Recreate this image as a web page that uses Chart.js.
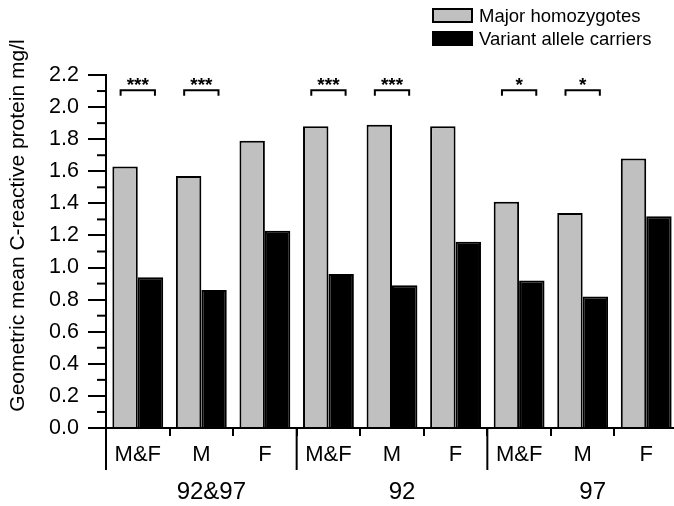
<!DOCTYPE html>
<html>
<head>
<meta charset="utf-8">
<script src="https://cdn.jsdelivr.net/npm/chart.js@4/dist/chart.umd.min.js"></script>
<style>
  html, body { margin: 0; padding: 0; background: #fff; overflow: hidden; }
  #wrap { position: relative; width: 680px; height: 506px; }
  #legend { position: absolute; left: 432px; top: 4px; font: 18.5px "Liberation Sans", Arial, sans-serif; color: #000; }
  .item { display: flex; align-items: center; height: 23px; }
  .box { width: 37px; height: 11px; margin-right: 6px; border: 2px solid #000; }
</style>
</head>
<body>
<div id="wrap">
  <canvas id="myChart"></canvas>
  <div id="legend"></div>
</div>
<script>
const groups = ['92&97', '92', '97'];
const sexes = ['M&F', 'M', 'F'];
const categories = ['M&F', 'M', 'F', 'M&F', 'M', 'F', 'M&F', 'M', 'F'];
const majorHomozygotes = [1.63, 1.57, 1.79, 1.88, 1.89, 1.88, 1.41, 1.34, 1.68];
const variantCarriers = [0.94, 0.86, 1.23, 0.96, 0.89, 1.16, 0.92, 0.82, 1.32];
const significance = ['***', '***', '', '***', '***', '', '*', '*', ''];
const yMax = 2.2;
const yStep = 0.2;

const FONT = '"Liberation Sans", Arial, sans-serif';
Chart.defaults.font.family = FONT;
Chart.defaults.color = '#000';

document.addEventListener('DOMContentLoaded', init, false);

function init(){
    const ctx = document.getElementById("myChart");
    const data = {
        labels: categories,
        datasets: [{
            label: 'Major homozygotes',
            data: majorHomozygotes,
            backgroundColor: '#c0c0c0',
            borderColor: '#000',
            borderWidth: 2
        }, {
            label: 'Variant allele carriers',
            data: variantCarriers,
            backgroundColor: '#000',
            borderColor: '#000',
            borderWidth: 2
        }]
    };
    const config = {
        type: 'bar',
        data: data,
        options: {
            responsive: true,
            maintainAspectRatio: false,
            animation: false,
            devicePixelRatio: 1,
            categoryPercentage: 0.8,
            barPercentage: 1.0,
            layout: { padding: { top: 75, right: 2, bottom: 0, left: 0 } },
            plugins: { legend: { display: false }, tooltip: { enabled: false } },
            scales: {
                x: {
                    grid: { drawOnChartArea: false, tickLength: 8, color: '#000', lineWidth: 2, offset: true },
                    border: { color: '#000', width: 2 },
                    ticks: { color: '#000', font: { size: 22 }, padding: 6, autoSkip: false, maxRotation: 0 },
                    afterFit: (s) => { s.height = 78; }
                },
                y: {
                    min: 0,
                    max: yMax,
                    ticks: { stepSize: yStep, color: '#000', font: { size: 21.5 }, padding: 9,
                             callback: (v) => v.toFixed(1) },
                    grid: { drawOnChartArea: false, tickLength: 18, color: '#000', lineWidth: 2 },
                    border: { color: '#000', width: 2 },
                    afterFit: (s) => { s.width = 106; }
                }
            }
        },
        plugins: [extras]
    };
    const chart = new Chart(ctx, config);
    makeLegend(chart);
}

function line(ctx, x1, y1, x2, y2){
    ctx.beginPath();
    ctx.moveTo(x1, y1);
    ctx.lineTo(x2, y2);
    ctx.stroke();
}

const extras = {
    id: 'extras',
    afterDraw(chart){
        const { ctx, chartArea, scales: { x, y } } = chart;
        const catW = x.getPixelForValue(1) - x.getPixelForValue(0);
        ctx.save();
        ctx.strokeStyle = '#000';
        ctx.fillStyle = '#000';
        ctx.lineWidth = 2;
        // minor ticks on y
        for (let k = 1; k < 22; k += 2) {
            const py = y.getPixelForValue(k / 10);
            line(ctx, chartArea.left - 9, py, chartArea.left, py);
        }
        // long ticks between the year groups
        for (let i = 0; i <= categories.length; i += 3) {
            const px = x.getPixelForValue(i) - catW / 2;
            line(ctx, px, chartArea.bottom, px, chartArea.bottom + 42);
        }
        // group labels
        ctx.font = '24px ' + FONT;
        ctx.textAlign = 'center';
        ctx.textBaseline = 'alphabetic';
        groups.forEach((g, gi) => {
            const px = x.getPixelForValue(gi * 3 + 1) + 10;
            ctx.fillText(g, px, chartArea.bottom + 71);
        });
        // significance brackets
        significance.forEach((s, i) => {
            if (!s) return;
            const cx = x.getPixelForValue(i);
            const half = catW * 0.27;
            const by = y.getPixelForValue(2.105);
            const ly = y.getPixelForValue(2.07);
            ctx.beginPath();
            ctx.moveTo(cx - half, ly);
            ctx.lineTo(cx - half, by);
            ctx.lineTo(cx + half, by);
            ctx.lineTo(cx + half, ly);
            ctx.stroke();
            ctx.font = 'bold 19px ' + FONT;
            ctx.textBaseline = 'middle';
            ctx.fillText(s, cx, y.getPixelForValue(2.13));
        });
        // y title
        const cy = (chartArea.top + chartArea.bottom) / 2 - 26;
        ctx.translate(18, cy);
        ctx.rotate(-Math.PI / 2);
        ctx.font = '21px ' + FONT;
        ctx.textAlign = 'center';
        ctx.textBaseline = 'middle';
        ctx.fillText('Geometric mean C-reactive protein mg/l', 0, 0);
        ctx.restore();
    }
};

function makeLegend(chart){
    const legendDiv = document.getElementById("legend");
    chart.data.datasets.forEach(ds => {
        legendDiv.innerHTML += '<div class="item"><span class="box" style="background:' + ds.backgroundColor + '"></span>' + ds.label + '</div>';
    });
}
</script>
</body>
</html>
